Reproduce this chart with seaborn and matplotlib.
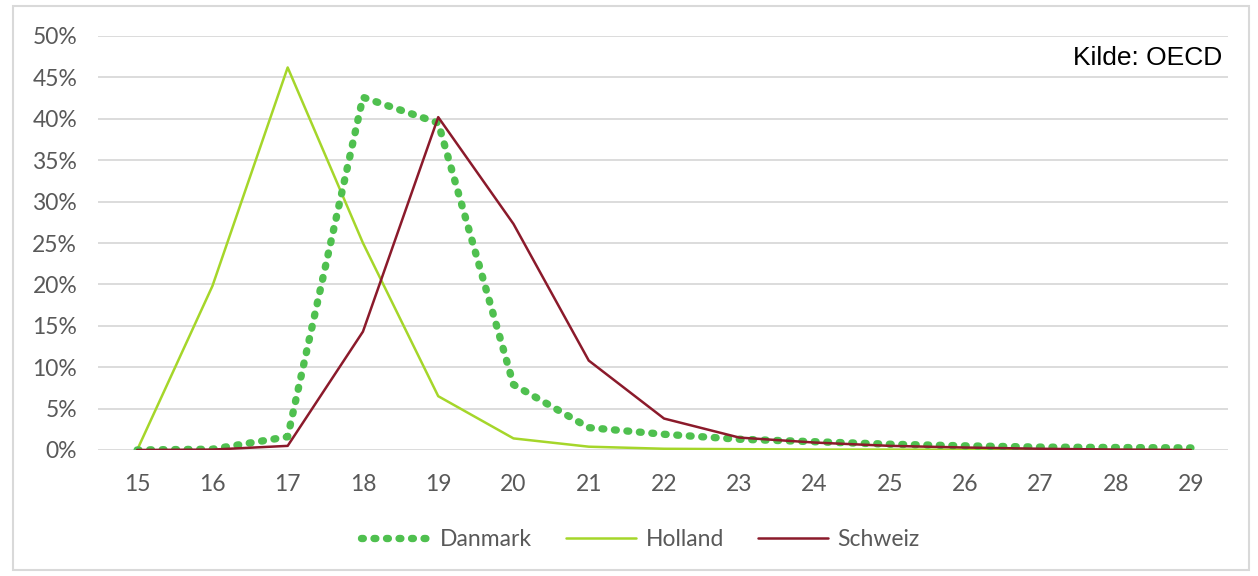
import numpy as np
import pandas as pd
import matplotlib
matplotlib.use("Agg")
import matplotlib.pyplot as plt
import seaborn as sns
from matplotlib.patches import Rectangle
from matplotlib.ticker import FuncFormatter

ages = list(range(15, 30))
danmark = [0.0, 0.1, 1.6, 42.6, 39.5, 7.9, 2.7, 1.9, 1.3, 1.0, 0.7, 0.5, 0.35, 0.3, 0.25]
holland = [0.0, 19.8, 46.2, 25.0, 6.5, 1.4, 0.4, 0.15, 0.1, 0.05, 0.05, 0.03, 0.02, 0.01, 0.0]
schweiz = [0.0, 0.05, 0.5, 14.3, 40.2, 27.3, 10.8, 3.8, 1.5, 0.9, 0.5, 0.3, 0.15, 0.05, 0.0]

colors = {"Danmark": "#4fc04f", "Holland": "#a5d62a", "Schweiz": "#8b1a2b"}

df = pd.DataFrame({"Alder": ages, "Danmark": danmark, "Holland": holland, "Schweiz": schweiz})

sns.set_style("white")
plt.rcParams["font.family"] = ["Lato", "DejaVu Sans"]

fig = plt.figure(figsize=(12.58, 5.76), dpi=100)
ax = fig.add_axes([0.0779, 0.21875, 0.8981, 0.71875])

# dotted Danmark line: round dots
sns.lineplot(data=df, x="Alder", y="Danmark", ax=ax, color=colors["Danmark"], label="Danmark",
             linewidth=5.3, linestyle=(0, (0.25, 1.45)), dash_capstyle="round", zorder=3)
sns.lineplot(data=df, x="Alder", y="Holland", ax=ax, color=colors["Holland"], label="Holland",
             linewidth=1.8, zorder=2)
sns.lineplot(data=df, x="Alder", y="Schweiz", ax=ax, color=colors["Schweiz"], label="Schweiz",
             linewidth=1.8, zorder=4)

ax.set_xlim(14.48, 29.49)
ax.set_ylim(0, 50)
ax.set_xticks(ages)
ax.set_yticks(np.arange(0, 51, 5))
ax.yaxis.set_major_formatter(FuncFormatter(lambda v, p: f"{v:.0f}%"))
ax.grid(axis="y", color="#d9d9d9", linewidth=1.3)
ax.set_axisbelow(True)
for s in ax.spines.values():
    s.set_visible(False)
ax.tick_params(axis="both", length=0, labelsize=16.5, labelcolor="#595959")
ax.tick_params(axis="x", pad=17)
ax.tick_params(axis="y", pad=15)
ax.set_xlabel("")
ax.set_ylabel("")

ax.text(1222 / 1258, 1 - 58 / 576, "Kilde: OECD", transform=fig.transFigure,
        ha="right", va="center", fontsize=19, color="black", family=["Liberation Sans"])

ax.legend(loc="center", bbox_to_anchor=(0.509, 0.063), bbox_transform=fig.transFigure,
          ncol=3, frameon=False, fontsize=16.5, labelcolor="#595959",
          handlelength=3.05, handletextpad=0.4, columnspacing=1.5)

fig.patches.append(Rectangle((13 / 1258, 6 / 576), 1236 / 1258, 564 / 576,
                             transform=fig.transFigure, fill=False,
                             edgecolor="#d9d9d9", linewidth=1.5))

fig.savefig("out.png", dpi=100, facecolor="white")
